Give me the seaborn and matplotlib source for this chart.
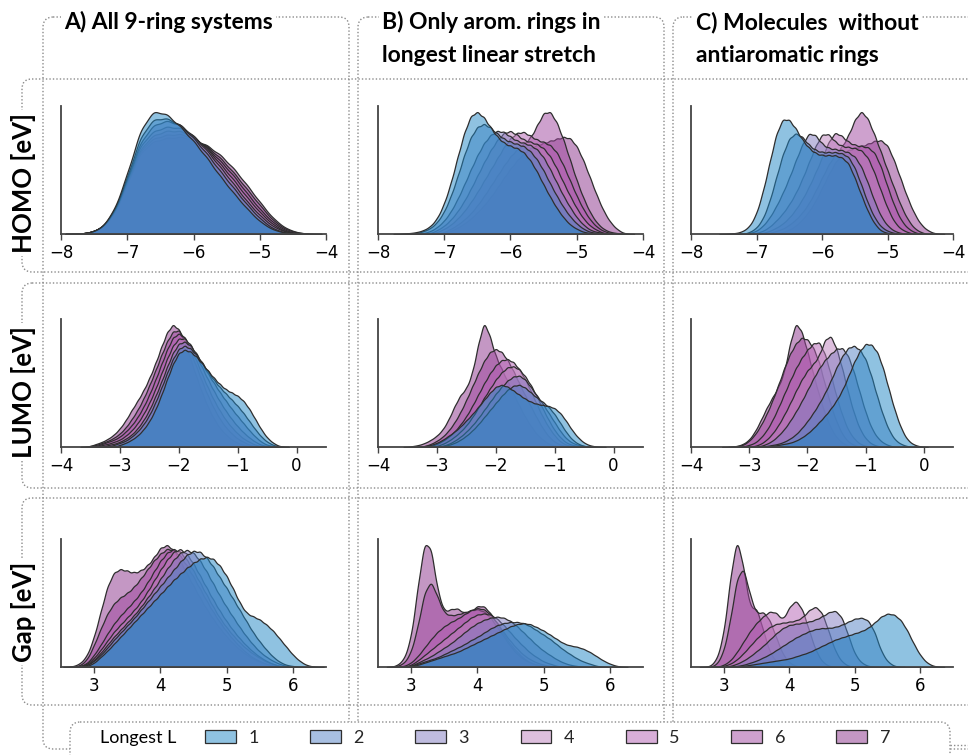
import numpy as np
import pandas as pd
import matplotlib
matplotlib.use("Agg")
import matplotlib.pyplot as plt
import seaborn as sns
from matplotlib.patches import FancyBboxPatch, Patch
from matplotlib.colors import to_rgba

# ---------------- data (heights, arbitrary units) ----------------
LEVELS = ["1", "2", "3", "4", "5", "6", "7"]
PALETTE = ["#2086c4", "#5280c4", "#817ac0", "#bc80bc", "#b25eb2", "#9e459e", "#8a318a"]

ROW_NAMES = ["HOMO [eV]", "LUMO [eV]", "Gap [eV]"]
COL_TITLES = [["A) All 9-ring systems"],
              ["B) Only arom. rings in", "longest linear stretch"],
              ["C) Molecules  without", "antiaromatic rings"]]
XLIMS = [(-8, -4), (-4, 0.5), (2.5, 6.5)]
XTICKS = [[-8, -7, -6, -5, -4], [-4, -3, -2, -1, 0], [3, 4, 5, 6]]

# HOMO, column A  (grid start -7.6, step 0.2)
HOMO_A_START, HOMO_A_STEP = -7.6, 0.2
HOMO_A = [
    [1, 5, 22, 58, 102, 120, 116, 104, 90, 74, 56, 40, 25, 12, 4, 1, 0],
    [1, 5, 21, 55, 95, 112, 112, 106, 93, 78, 61, 45, 29, 15, 5, 1, 0],
    [1, 5, 20, 53, 90, 106, 110, 106, 95, 81, 65, 49, 32, 18, 7, 2, 0],
    [1, 5, 20, 52, 87, 100, 104, 103, 95, 83, 68, 53, 36, 21, 9, 2, 0],
    [1, 5, 19, 50, 84, 96, 100, 100, 94, 84, 71, 57, 40, 24, 11, 3, 0],
    [1, 5, 19, 49, 82, 93, 96, 97, 93, 85, 74, 60, 44, 28, 13, 4, 1],
    [1, 4, 18, 48, 80, 90, 93, 94, 92, 86, 77, 64, 48, 31, 15, 5, 1],
]
# HOMO, column B  (grid start -7.6, step 0.1)
HOMO_B_START, HOMO_B_STEP = -7.6, 0.1
HOMO_B = [
    [0.5, 1, 2, 4, 8, 16, 30, 50, 75, 99, 116, 120, 114, 104, 95, 89, 86, 84, 80, 72, 61, 48, 36, 25, 16, 9, 5, 2, 1, 0, 0, 0, 0, 0],
    [0, 0, 1, 3, 6, 12, 22, 37, 56, 77, 95, 105, 108, 104, 98, 93, 90, 88, 86, 81, 73, 62, 49, 37, 26, 17, 10, 5, 2, 1, 0, 0, 0, 0],
    [0, 0, 0, 1, 3, 7, 13, 22, 34, 48, 63, 77, 89, 97, 101, 100, 95, 91, 89, 87, 83, 75, 63, 50, 37, 26, 16, 9, 4, 2, 1, 0, 0, 0],
    [0, 0, 0, 0, 1, 4, 8, 14, 22, 32, 44, 57, 70, 82, 92, 99, 101, 97, 92, 90, 88, 84, 76, 64, 50, 37, 25, 15, 8, 4, 1, 0, 0, 0],
    [0, 0, 0, 0, 0, 2, 5, 9, 15, 22, 31, 41, 52, 63, 74, 85, 94, 99, 100, 96, 92, 90, 87, 80, 67, 52, 37, 24, 14, 7, 3, 1, 0, 0],
    [0, 0, 0, 0, 0, 0, 2, 5, 9, 14, 20, 28, 37, 47, 57, 67, 76, 83, 88, 94, 106, 119, 120, 109, 92, 72, 52, 35, 21, 11, 5, 2, 1, 0],
    [0, 0, 0, 0, 0, 0, 1, 3, 6, 10, 15, 21, 28, 36, 45, 55, 64, 72, 79, 84, 87, 89, 91, 93, 95, 94, 86, 72, 55, 38, 23, 12, 5, 1],
]
# HOMO, column C  (grid start -7.5, step 0.1)
HOMO_C_START, HOMO_C_STEP = -7.5, 0.1
HOMO_C = [
    [0, 0.5, 1, 3, 8, 20, 42, 70, 98, 113, 112, 103, 92, 84, 79, 77, 77, 77, 75, 70, 55, 38, 22, 10, 3, 1, 0, 0, 0, 0, 0, 0, 0, 0],
    [0, 0, 0, 0, 2, 6, 15, 32, 55, 78, 94, 99, 95, 87, 82, 80, 80, 80, 79, 76, 65, 48, 30, 16, 7, 3, 1, 0, 0, 0, 0, 0, 0, 0],
    [0, 0, 0, 0, 1, 3, 8, 16, 27, 40, 55, 72, 88, 99, 97, 88, 84, 83, 82, 80, 76, 66, 50, 32, 17, 8, 3, 1, 0, 0, 0, 0, 0, 0],
    [0, 0, 0, 0, 0, 1, 3, 7, 13, 20, 29, 40, 54, 70, 86, 98, 98, 90, 86, 85, 84, 82, 75, 60, 42, 25, 12, 5, 2, 0, 0, 0, 0, 0],
    [0, 0, 0, 0, 0, 0, 1, 3, 6, 10, 16, 24, 34, 46, 60, 75, 90, 100, 96, 90, 87, 86, 85, 80, 66, 46, 28, 14, 6, 2, 0, 0, 0, 0],
    [0, 0, 0, 0, 0, 0, 0, 1, 3, 5, 9, 14, 21, 30, 42, 55, 68, 78, 85, 96, 112, 121, 113, 97, 80, 62, 45, 28, 15, 6, 2, 0, 0, 0],
    [0, 0, 0, 0, 0, 0, 0, 0, 0, 2, 4, 8, 14, 22, 32, 45, 58, 70, 78, 82, 84, 86, 88, 91, 92, 87, 72, 54, 36, 21, 10, 4, 1, 0],
]
# LUMO, column A  (grid start -3.6, step 0.1)
LUMO_A_START, LUMO_A_STEP = -3.6, 0.1
LUMO_A = [
    [0] * 6 + [2, 4, 7, 11, 17, 25, 36, 50, 66, 81, 92, 95, 93, 88, 81, 74, 67, 61, 56, 53, 50, 45, 37, 27, 17, 9, 4, 1] + [0],
    [0] * 5 + [2, 4, 6, 10, 15, 22, 31, 43, 57, 72, 86, 96, 99, 96, 90, 82, 73, 65, 58, 52, 46, 40, 33, 25, 17, 10, 5, 2, 0.5] + [0],
    [0] * 4 + [2, 3, 5, 8, 12, 18, 26, 36, 49, 63, 78, 92, 101, 103, 99, 91, 81, 71, 62, 53, 45, 37, 30, 23, 16, 10, 5, 2, 1] + [0] * 2,
    [0] * 3 + [2, 3, 5, 7, 11, 16, 23, 32, 43, 56, 71, 86, 99, 106, 106, 100, 89, 77, 65, 54, 44, 35, 27, 20, 14, 9, 5, 2, 1] + [0] * 3,
    [0] * 2 + [1, 3, 5, 7, 10, 15, 21, 29, 39, 51, 65, 80, 95, 107, 111, 107, 97, 84, 70, 57, 45, 35, 26, 19, 13, 8, 5, 2, 1] + [0] * 4,
    [0] + [1, 2, 4, 6, 9, 13, 19, 27, 36, 47, 60, 74, 89, 103, 113, 114, 106, 93, 78, 63, 49, 37, 27, 19, 13, 8, 5, 2, 1] + [0] * 5,
    [0] + [1, 3, 5, 8, 12, 18, 26, 36, 45, 55, 67, 81, 97, 112, 120, 115, 102, 85, 68, 52, 38, 27, 18, 12, 7, 4, 2, 1] + [0] * 6,
]
# LUMO, column B  (grid start -3.4, step 0.1)
LUMO_B_START, LUMO_B_STEP = -3.4, 0.1
LUMO_B = [
    [0, 0, 1, 2, 4, 7, 11, 15, 20, 26, 32, 39, 46, 53, 59, 61, 59, 55, 51, 47, 44, 42, 41, 40, 38, 33, 25, 16, 9, 4, 1.5, 0.5, 0],
    [0, 0, 0, 0, 0, 1, 2, 4, 7, 11, 16, 22, 29, 36, 43, 50, 56, 60, 61, 58, 53, 48, 44, 39, 32, 23, 14, 7, 3, 1, 0, 0, 0],
    [0, 0, 0, 0, 0, 1, 3, 6, 10, 15, 21, 28, 36, 44, 52, 59, 65, 69, 70, 66, 58, 50, 42, 33, 24, 15, 8, 4, 2, 1, 0, 0, 0],
    [0, 0, 0, 0, 1, 3, 6, 10, 15, 21, 29, 38, 48, 57, 66, 73, 78, 79, 76, 69, 60, 49, 37, 26, 16, 9, 4, 2, 1, 0, 0, 0, 0],
    [0, 0, 0, 1, 3, 6, 10, 15, 22, 30, 40, 51, 62, 72, 80, 85, 86, 83, 76, 66, 54, 41, 29, 19, 11, 5, 2, 1, 0, 0, 0, 0, 0],
    [0, 0, 1, 3, 6, 10, 16, 24, 34, 46, 59, 72, 84, 93, 96, 93, 85, 74, 62, 50, 39, 28, 18, 10, 5, 2, 1, 0, 0, 0, 0, 0, 0],
    [1, 2, 4, 7, 11, 17, 27, 40, 51, 57, 72, 100, 124, 108, 88, 76, 64, 52, 40, 29, 20, 12, 7, 3, 1, 0, 0, 0, 0, 0, 0, 0, 0],
]
# LUMO, column C  (grid start -3.3, step 0.1)
LUMO_C_START, LUMO_C_STEP = -3.3, 0.1
LUMO_C = [
    [0] * 6 + [0.5, 1, 2, 3, 4, 6, 9, 13, 18, 24, 30, 37, 45, 55, 68, 82, 93, 100, 99, 92, 76, 55, 35, 19, 8, 3, 1] + [0],
    [0] * 6 + [1, 2, 3, 5, 8, 12, 18, 25, 33, 42, 52, 64, 77, 88, 96, 98, 94, 85, 68, 48, 30, 16, 7, 3, 1] + [0] * 3,
    [0] * 5 + [1, 3, 6, 11, 17, 25, 34, 44, 55, 66, 76, 84, 90, 95, 96, 88, 72, 52, 33, 18, 9, 4, 1.5] + [0] * 6,
    [0] * 4 + [1, 3, 7, 13, 21, 31, 42, 54, 65, 74, 80, 88, 104, 108, 95, 75, 52, 32, 17, 8, 3, 1] + [0] * 8,
    [0] * 2 + [0.5, 2, 4, 9, 16, 26, 38, 51, 64, 76, 86, 94, 100, 102, 90, 70, 48, 30, 16, 8, 3, 1] + [0] * 10,
    [0] + [1, 2, 6, 12, 21, 32, 45, 60, 76, 90, 100, 106, 104, 96, 82, 60, 40, 24, 12, 5, 2] + [0] * 12,
    [0.5, 1, 3, 7, 15, 26, 38, 48, 58, 72, 100, 121, 112, 92, 70, 50, 32, 18, 9, 4, 1] + [0] * 13,
]
# Gap, column A  (grid start 2.7, step 0.1)
GAP_A_START, GAP_A_STEP = 2.7, 0.1
GAP_A = [
    [0, 0] + [1, 4, 10, 16, 23, 30, 37, 44, 51, 58, 65, 72, 79, 86, 92, 98, 103, 107, 109, 107, 100, 90, 77, 63, 53, 50, 47, 42, 36, 28, 20, 12, 6, 2, 0.5],
    [0, 0] + [2, 6, 12, 19, 27, 34, 41, 48, 56, 64, 72, 80, 88, 96, 104, 111, 115, 114, 108, 99, 88, 78, 67, 56, 45, 34, 25, 17, 10, 5, 2, 1] + [0] * 3,
    [0, 0] + [2, 7, 14, 22, 30, 37, 44, 51, 59, 68, 77, 87, 97, 106, 113, 116, 113, 105, 94, 82, 70, 59, 49, 39, 30, 22, 15, 10, 6, 3, 1] + [0] * 4,
    [0] + [1, 3, 9, 17, 26, 35, 42, 49, 56, 64, 74, 85, 96, 106, 114, 117, 112, 102, 90, 78, 66, 55, 45, 36, 28, 21, 15, 10, 6, 3, 1] + [0] * 5,
    [0] + [1, 4, 12, 22, 33, 43, 51, 58, 65, 73, 83, 94, 105, 113, 117, 114, 106, 95, 83, 71, 59, 48, 39, 31, 24, 18, 13, 9, 5, 3, 1] + [0] * 5,
    [0] + [2, 8, 22, 38, 53, 63, 69, 73, 79, 87, 96, 105, 112, 117, 116, 110, 100, 89, 77, 65, 54, 44, 35, 27, 20, 14, 9, 6, 3, 1.5, 0.5] + [0] * 5,
    [1, 4, 12, 30, 55, 80, 94, 97, 95, 93, 95, 100, 108, 118, 121, 116, 105, 92, 80, 68, 57, 47, 38, 30, 23, 17, 12, 8, 5, 3, 1.5, 0.5] + [0] * 5,
]
# Gap, column B  (grid start 2.7, step 0.1)
GAP_B_START, GAP_B_STEP = 2.7, 0.1
GAP_B = [
    [0, 0, 0] + [0.5, 2, 4, 6, 8, 10, 12, 14, 17, 20, 23, 26, 29, 32, 35, 38, 40, 41, 40, 37, 34, 30, 26, 22, 20, 19, 17, 14, 10, 6, 3, 1] + [0],
    [0, 0, 0] + [1, 3, 5, 7, 9, 12, 15, 18, 21, 25, 28, 32, 36, 39, 41, 42, 42, 41, 38, 34, 30, 26, 21, 16, 12, 8, 5, 3, 1] + [0] * 4,
    [0, 0, 0] + [1, 4, 7, 10, 14, 18, 22, 27, 32, 37, 41, 44, 46, 47, 46, 43, 38, 32, 26, 20, 15, 11, 7, 4, 2, 1] + [0] * 7,
    [0, 0, 0] + [2, 6, 11, 16, 21, 26, 31, 36, 41, 46, 49, 50, 49, 45, 39, 32, 25, 19, 13, 9, 5, 3, 1] + [0] * 10,
    [0, 0] + [1, 4, 10, 18, 26, 33, 38, 42, 45, 49, 53, 55, 54, 49, 41, 32, 24, 17, 11, 7, 4, 2, 1] + [0] * 11,
    [0] + [1, 4, 14, 38, 70, 81, 65, 50, 48, 49, 51, 53, 54, 52, 46, 37, 28, 19, 12, 7, 4, 2, 1] + [0] * 12,
    [0] + [2, 8, 28, 75, 118, 112, 70, 51, 54, 55, 50, 52, 57, 57, 50, 40, 30, 21, 14, 8, 4, 2, 1] + [0] * 12,
]
# Gap, column C  (grid start 2.8, step 0.1)
GAP_C_START, GAP_C_STEP = 2.8, 0.1
GAP_C = [
    [0] * 4 + [0.5, 1, 2, 3, 4, 5, 6, 7, 8, 10, 12, 14, 17, 20, 23, 26, 28, 30, 32, 34, 37, 42, 48, 51, 50, 45, 35, 22, 11, 4, 1] + [0],
    [0] * 4 + [1, 2, 4, 6, 9, 12, 16, 20, 24, 28, 31, 34, 36, 37, 37, 38, 40, 43, 46, 47, 45, 34, 15, 5, 1] + [0] * 7,
    [0] * 3 + [1, 3, 6, 10, 15, 20, 26, 32, 37, 40, 41, 42, 43, 45, 48, 52, 54, 48, 30, 12, 4, 1] + [0] * 11,
    [0] * 2 + [1, 3, 7, 13, 20, 27, 33, 38, 41, 42, 43, 44, 47, 54, 58, 52, 34, 15, 5, 1] + [0] * 14,
    [0] * 2 + [2, 6, 14, 24, 34, 42, 48, 53, 52, 44, 57, 64, 55, 35, 16, 5, 1] + [0] * 17,
    [0] + [3, 15, 45, 85, 96, 68, 50, 53, 45, 28, 12, 4, 1] + [0] * 22,
    [1, 8, 32, 85, 125, 95, 55, 57, 35, 14, 5, 1] + [0] * 24,
]

PANELS = [
    [(HOMO_A_START, HOMO_A_STEP, HOMO_A), (HOMO_B_START, HOMO_B_STEP, HOMO_B), (HOMO_C_START, HOMO_C_STEP, HOMO_C)],
    [(LUMO_A_START, LUMO_A_STEP, LUMO_A), (LUMO_B_START, LUMO_B_STEP, LUMO_B), (LUMO_C_START, LUMO_C_STEP, LUMO_C)],
    [(GAP_A_START, GAP_A_STEP, GAP_A), (GAP_B_START, GAP_B_STEP, GAP_B), (GAP_C_START, GAP_C_STEP, GAP_C)],
]

# ---------------- style ----------------
sns.set_theme(style="white")
plt.rcParams["font.family"] = ["DejaVu Sans"]
EDGE = "#2e2e2e"
BOX = "#8a8a8a"
TITLE_FONT = "Lato"

W, H = 968, 755
fig = plt.figure(figsize=(W / 100, H / 100), dpi=100)

COL_LEFT = [61, 378, 691]
COL_W = [265, 265, 262]
ROW_Y = [(106, 234), (319, 447), (539, 667)]


def make_frame(start, step, series):
    rows = []
    for lvl, hs in zip(LEVELS, series):
        for i, h in enumerate(hs):
            if h > 0:
                rows.append((round(start + i * step, 3), float(h), lvl))
    return pd.DataFrame(rows, columns=["x", "w", "L"])


def const_bw(bw):
    return lambda k: bw / np.sqrt(np.cov(k.dataset[0], aweights=k.weights))


for r in range(3):
    for c in range(3):
        start, step, series = PANELS[r][c]
        top, bot = ROW_Y[r]
        ax = fig.add_axes([COL_LEFT[c] / W, 1 - bot / H, COL_W[c] / W, (bot - top) / H])
        ax.set_facecolor("none")
        df = make_frame(start, step, series)
        sns.kdeplot(data=df, x="x", weights="w", hue="L", hue_order=LEVELS,
                    palette=PALETTE, fill=True, alpha=0.5, common_norm=True,
                    bw_method=const_bw(0.55 * step), cut=3, gridsize=500,
                    linewidth=0.9, edgecolor=EDGE, legend=False, ax=ax)
        ax.set_xlim(*XLIMS[r])
        ax.set_xticks(XTICKS[r])
        ax.set_yticks([])
        ax.set_xlabel("")
        ax.set_ylabel("")
        for s in ["top", "right"]:
            ax.spines[s].set_visible(False)
        for s in ["left", "bottom"]:
            ax.spines[s].set_color("#444444")
            ax.spines[s].set_linewidth(1.3)
        ax.tick_params(axis="x", bottom=True, length=4, width=1, color="#444444",
                       labelsize=12, pad=3, labelcolor="black")

# ---------------- decorations (overlay in pixel coordinates) ----------------
ov = fig.add_axes([0, 0, 1, 1], zorder=-1)
ov.set_xlim(0, W)
ov.set_ylim(H, 0)
ov.axis("off")

dot = dict(facecolor="none", edgecolor=BOX, linewidth=1.0, linestyle=(0, (1, 1.5)))


def rbox(x0, y0, x1, y1, z=1, **kw):
    p = FancyBboxPatch((x0, y0), x1 - x0, y1 - y0,
                       boxstyle="round,pad=0,rounding_size=10", zorder=z, **kw)
    ov.add_patch(p)


# column boxes
rbox(43, 17, 349, 749, **dot)
rbox(358, 17, 664, 749, **dot)
rbox(673, 17, 1010, 749, **dot)
# row boxes
rbox(22, 79, 1010, 272, **dot)
rbox(22, 283, 1010, 488, **dot)
rbox(22, 498, 1010, 705, **dot)
# legend box (white, hides lines behind it)
rbox(70, 722, 950, 790, z=3, facecolor="white", edgecolor=BOX, linewidth=1.0,
     linestyle=(0, (1, 1.5)))
ov.plot([950, 968], [745, 745], color=BOX, lw=1.0, ls=(0, (1, 1.5)), zorder=3)

white = dict(facecolor="white", edgecolor="none", pad=2)
title_x = [64, 382, 696]
for c in range(3):
    for i, line in enumerate(COL_TITLES[c]):
        ov.text(title_x[c], 29 + 33 * i, line, family=TITLE_FONT, fontweight="bold",
                fontsize=16.5, ha="left", va="baseline", color="black",
                bbox=white if i == 0 else None, zorder=5)

row_cy = [183, 392, 612]
for r in range(3):
    ov.text(23, row_cy[r], ROW_NAMES[r], rotation=90, family=TITLE_FONT, fontsize=18.5,
            fontweight="bold", ha="center", va="center", color="black", bbox=white, zorder=5)

# legend
ov.text(100, 738, "Longest L", family=TITLE_FONT, fontsize=13, ha="left", va="center",
        color="black", zorder=5)
handles = [Patch(facecolor=to_rgba(col, 0.5), edgecolor=EDGE, linewidth=0.9) for col in PALETTE]
fig.legend(handles, LEVELS, ncol=7, loc="center left",
           bbox_to_anchor=(205 / W, 1 - 738 / H), frameon=False,
           prop={"family": TITLE_FONT, "size": 13},
           handlelength=1.7, handleheight=0.7, handletextpad=0.7,
           columnspacing=2.85, borderaxespad=0, borderpad=0)

fig.savefig("out.png", dpi=100)
